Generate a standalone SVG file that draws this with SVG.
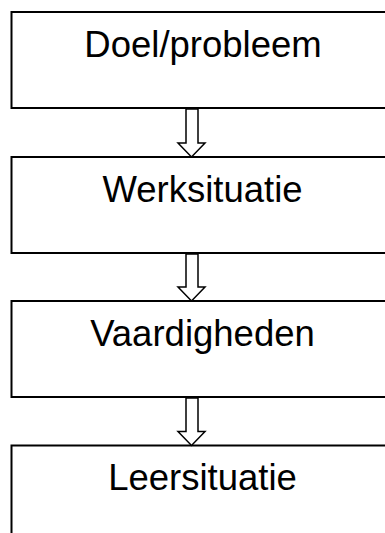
<svg xmlns="http://www.w3.org/2000/svg" width="385" height="533" viewBox="0 0 385 533">
<style>
.box{fill:#fff;stroke:#000;stroke-width:2}
.lbl{font-family:"Liberation Sans",Arial,sans-serif;font-size:36.5px;fill:#000;text-anchor:middle}
.arr{fill:#fff;stroke:#000;stroke-width:1.5;stroke-linejoin:miter}
</style>
<rect width="385" height="533" fill="#fff"/>
<g id="doel">
<rect class="box" x="11.5" y="12" width="400" height="96"/>
<text class="lbl" x="203" y="57">Doel/probleem</text>
</g>
<g id="werksituatie">
<rect class="box" x="11.5" y="157" width="400" height="96"/>
<text class="lbl" x="202.5" y="201.5">Werksituatie</text>
</g>
<g id="vaardigheden">
<rect class="box" x="11.5" y="301" width="400" height="96"/>
<text class="lbl" x="202.5" y="345.5">Vaardigheden</text>
</g>
<g id="leersituatie">
<rect class="box" x="11.5" y="445.5" width="400" height="120"/>
<text class="lbl" x="202.5" y="489.5">Leersituatie</text>
</g>
<g id="connectors">
<path class="arr" d="M186,109 L198,109 L198,143 L205,143 L191.5,157 L178,143 L186,143 Z"/>
<path class="arr" d="M186,254 L198,254 L198,287 L205,287 L191.5,301 L178,287 L186,287 Z"/>
<path class="arr" d="M186,398 L198,398 L198,431.5 L205,431.5 L191.5,445.5 L178,431.5 L186,431.5 Z"/>
</g>
</svg>
